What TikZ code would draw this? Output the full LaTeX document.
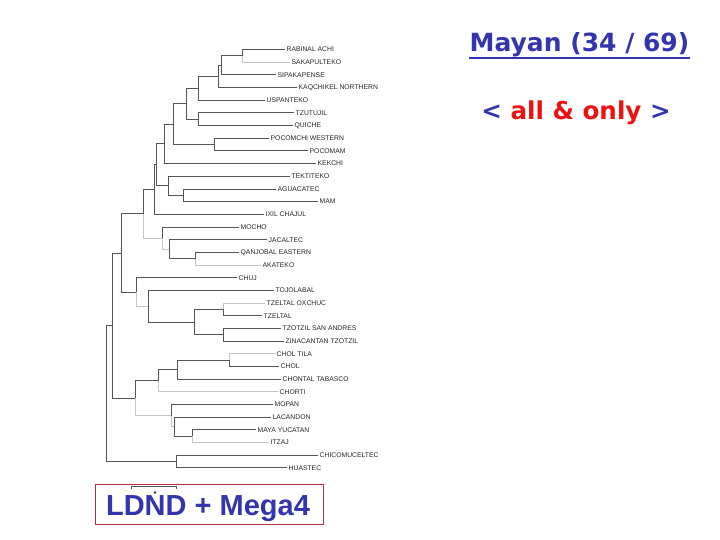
\documentclass[tikz,border=0pt]{standalone}
\usepackage{fontspec}
\setmainfont{Liberation Sans}
\newfontfamily\verdfont{DejaVu Sans}
\definecolor{branchgray}{HTML}{555555}
\definecolor{faintgray}{HTML}{C4C4C4}
\definecolor{titleblue}{HTML}{3434AE}
\definecolor{onlyred}{HTML}{EE1111}
\definecolor{boxred}{HTML}{B03040}
\begin{document}
\begin{tikzpicture}
  [x=1pt,y=-1pt,
   taxon/.style={anchor=west,inner sep=1.5pt,text=black!85,font=\fontsize{6.8}{8}\selectfont},
   branch/.style={draw=branchgray,line width=0.9pt},
   faint/.style={draw=faintgray,line width=0.9pt}]
  \useasboundingbox (0,0) rectangle (720,540);

  % leaves: name/row/end of branch/label
  \foreach \n/\i/\xe/\lab in {rab/0/285/RABINAL ACHI, sak/1/290/SAKAPULTEKO,
      sip/2/276/SIPAKAPENSE, kaq/3/297/KAQCHIKEL NORTHERN, usp/4/265/USPANTEKO,
      tzu/5/294/TZUTUJIL, qui/6/293/QUICHE, pcw/7/269/POCOMCHI WESTERN,
      pcm/8/308/POCOMAM, kek/9/316/KEKCHI, tek/10/290/TEKTITEKO,
      agu/11/276/AGUACATEC, mam/12/318/MAM, ixi/13/264/IXIL CHAJUL,
      moc/14/239/MOCHO, jac/15/267/JACALTEC, qan/16/239/QANJOBAL EASTERN,
      aka/17/261/AKATEKO, chj/18/237/CHUJ, toj/19/274/TOJOLABAL,
      tzo/20/265/TZELTAL OXCHUC, tze/21/262/TZELTAL, tsa/22/281/TZOTZIL SAN ANDRES,
      zin/23/284/ZINACANTAN TZOTZIL, cht/24/275/CHOL TILA, cho/25/279/CHOL,
      chn/26/281/CHONTAL TABASCO, chr/27/278/CHORTI, mop/28/273/MOPAN,
      lac/29/271/LACANDON, may/30/256/MAYA YUCATAN, itz/31/269/ITZAJ,
      chi/32/318/CHICOMUCELTEC, hua/33/287/HUASTEC}
    \node[taxon] (\n) at (\xe,49.5+12.68*\i) {\lab};

  % inner nodes
  \coordinate (n1) at (242,55.9);
  \coordinate (n2) at (221,65.4);
  \coordinate (n3) at (218,76.4);
  \coordinate (n4) at (198,88.3);
  \coordinate (n5) at (198,119.2);
  \coordinate (n6) at (186,103.8);
  \coordinate (n7) at (214,144.6);
  \coordinate (n8) at (173,124.2);
  \coordinate (n9) at (164,143.9);
  \coordinate (n10) at (183,195.3);
  \coordinate (n11) at (168,185.8);
  \coordinate (n12) at (156,164.8);
  \coordinate (n13) at (154,189.6);
  \coordinate (n14) at (195,258.7);
  \coordinate (n15) at (169,249.2);
  \coordinate (n16) at (162,238.1);
  \coordinate (n17) at (143,213.9);
  \coordinate (n18) at (223,309.4);
  \coordinate (n19) at (223,334.8);
  \coordinate (n20) at (194,322.1);
  \coordinate (n21) at (148,306.3);
  \coordinate (n22) at (136,292);
  \coordinate (n23) at (121,253);
  \coordinate (n24) at (229,360.2);
  \coordinate (n25) at (177,369.7);
  \coordinate (n26) at (158,380.8);
  \coordinate (n27) at (192,436.2);
  \coordinate (n28) at (174,426.7);
  \coordinate (n29) at (171,415.6);
  \coordinate (n30) at (135,398.2);
  \coordinate (n31) at (112,325.6);
  \coordinate (n32) at (176,461.6);
  \coordinate (n33) at (106,393.6);

  \foreach \from/\to in {n1/rab.west, n2/n1, n2/sip.west, n3/n2, n3/kaq.west,
      n4/n3, n4/usp.west, n5/tzu.west, n5/qui.west, n6/n4, n6/n5,
      n7/pcw.west, n7/pcm.west, n8/n6, n8/n7, n9/n8, n9/kek.west,
      n10/agu.west, n10/mam.west, n11/tek.west, n11/n10, n12/n9, n12/n11,
      n13/n12, n13/ixi.west, n14/qan.west, n15/jac.west, n15/n14, n16/moc.west,
      n17/n13, n18/tze.west, n19/tsa.west, n19/zin.west, n20/n18, n20/n19,
      n21/toj.west, n21/n20, n22/chj.west, n23/n17, n23/n22,
      n24/cho.west, n25/n24, n25/chn.west, n26/n25, n27/may.west,
      n28/lac.west, n28/n27, n29/mop.west, n30/n26, n31/n23, n31/n30,
      n32/chi.west, n32/hua.west, n33/n31, n33/n32}
    \draw[branch] (\from) |- (\to);
  \foreach \from/\to in {n1/sak.west, n14/aka.west, n16/n15, n17/n16,
      n18/tzo.west, n22/n21, n24/cht.west, n26/chr.west, n27/itz.west,
      n29/n28, n30/n29}
    \draw[faint] (\from) |- (\to);

  % method box
  \node[draw=boxred,line width=0.8pt,minimum width=228,minimum height=40,inner sep=0pt] (method) at (209,504) {};
  \node[anchor=base,inner sep=0pt,text=titleblue,font=\fontsize{29}{32}\selectfont\bfseries] (methodlabel) at (208,515) {LDND + Mega4};

  % scale bar
  \coordinate (s1) at (131,486);
  \coordinate (s2) at (176,486);
  \draw[branchgray,line width=0.7pt] ([yshift=-2.5]s1) -- (s1) -- (s2) -- ([yshift=-2.5]s2);
  \fill[black!80] (155,492.5) circle (1.3);

  \node[anchor=base,inner sep=0pt,text=titleblue,font=\verdfont\fontsize{25}{28}\selectfont\bfseries] (title) at (579.5,52) {Mayan (34 / 69)};
  \draw[titleblue,line width=1.3pt] ([yshift=-6]title.base west) -- ([yshift=-6]title.base east);
  \node[anchor=base,inner sep=0pt,text=titleblue,font=\verdfont\fontsize{24.6}{28}\selectfont\bfseries] (scope) at (576,120)
    {< \textcolor{onlyred}{all \& only} >};
\end{tikzpicture}
\end{document}
